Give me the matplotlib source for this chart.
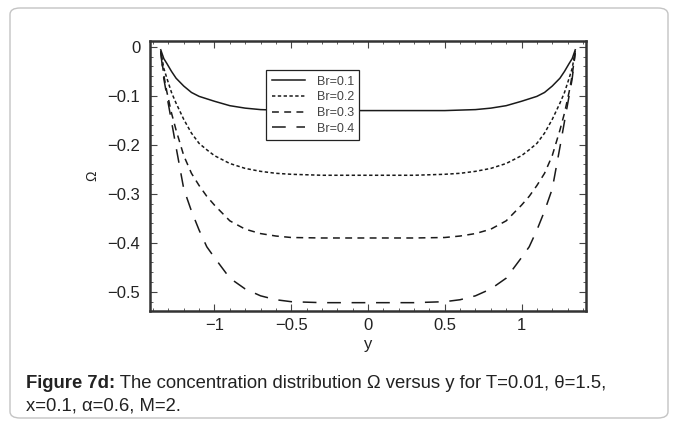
import numpy as np
import matplotlib
matplotlib.use("Agg")
import matplotlib.pyplot as plt
from matplotlib.patches import FancyBboxPatch
from matplotlib.ticker import MultipleLocator

plt.rcParams["font.family"] = ["Liberation Sans", "DejaVu Sans"]

# half-profile (y >= 0); curves are symmetric in y
y_half = [0.0, 0.3, 0.5, 0.6, 0.7, 0.8, 0.9, 1.0, 1.05, 1.1, 1.15, 1.2,
          1.25, 1.28, 1.31, 1.33, 1.35]
omega_br01 = [-0.130, -0.130, -0.130, -0.129, -0.128, -0.125, -0.120, -0.111,
              -0.106, -0.101, -0.093, -0.080, -0.064, -0.050, -0.034, -0.024, -0.006]
omega_br02 = [-0.262, -0.262, -0.260, -0.258, -0.254, -0.248, -0.238, -0.222,
              -0.210, -0.197, -0.176, -0.148, -0.115, -0.093, -0.064, -0.044, -0.008]
omega_br03 = [-0.390, -0.390, -0.389, -0.386, -0.381, -0.372, -0.355, -0.323,
              -0.305, -0.283, -0.258, -0.222, -0.170, -0.135, -0.092, -0.058, -0.010]
omega_br04 = [-0.522, -0.522, -0.520, -0.516, -0.508, -0.494, -0.472, -0.430,
              -0.408, -0.374, -0.335, -0.290, -0.205, -0.152, -0.100, -0.065, -0.012]

labels = ["Br=0.1", "Br=0.2", "Br=0.3", "Br=0.4"]
styles = ["-", (0, (2.2, 1.6)), (0, (4.5, 3.5)), (0, (9, 7))]


def full_curve(yh, vals):
    yh = np.asarray(yh)
    vals = np.asarray(vals)
    y = np.concatenate([-yh[::-1], yh[1:]])
    v = np.concatenate([vals[::-1], vals[1:]])
    return y, v


fig = plt.figure(figsize=(6.78, 4.26), dpi=100)

# rounded frame around chart + caption
frame = FancyBboxPatch((10 / 678, 8 / 426), 658 / 678, 410 / 426,
                       boxstyle="round,pad=0,rounding_size=0.015",
                       transform=fig.transFigure, fill=False,
                       edgecolor="#c4c4c4", linewidth=1.0)
fig.patches.append(frame)

ax = fig.add_axes([150 / 678, 115 / 426, 436 / 678, 270 / 426])

for vals, lab, ls in zip([omega_br01, omega_br02, omega_br03, omega_br04], labels, styles):
    y, v = full_curve(y_half, vals)
    ax.plot(y, v, color="#1a1a1a", linewidth=1.1, linestyle=ls, label=lab)

ax.set_xlim(-1.42, 1.42)
ax.set_ylim(-0.539, 0.012)

ax.xaxis.set_minor_locator(MultipleLocator(0.1))
ax.yaxis.set_minor_locator(MultipleLocator(0.02))
ax.set_xticks([-1, -0.5, 0, 0.5, 1])
ax.set_xticklabels(["\u22121", "\u22120.5", "0", "0.5", "1"])
ax.set_yticks([0, -0.1, -0.2, -0.3, -0.4, -0.5])
ax.set_yticklabels(["0", "\u22120.1", "\u22120.2", "\u22120.3", "\u22120.4", "\u22120.5"])

ax.tick_params(which="both", direction="in", top=True, right=True,
               color="#444444", labelsize=12, labelcolor="#222222")
ax.tick_params(which="major", length=5, width=0.8)
ax.tick_params(which="minor", length=2.5, width=0.6)
ax.tick_params(axis="y", which="major", pad=7)
ax.tick_params(axis="x", which="major", pad=5)
for sp in ax.spines.values():
    sp.set_linewidth(1.8)
    sp.set_color("#333333")

ax.set_xlabel("y", fontsize=12, color="#222222", labelpad=3)
ax.set_ylabel("\u03a9", fontsize=10, color="#222222", labelpad=6)

leg = ax.legend(loc="upper left", bbox_to_anchor=(0.266, 0.893),
                fontsize=9, frameon=True, fancybox=False, framealpha=1,
                edgecolor="#222222", handlelength=2.7, labelspacing=0.3,
                borderpad=0.45, handletextpad=0.9, borderaxespad=0)
leg.get_frame().set_linewidth(0.9)
for t in leg.get_texts():
    t.set_color("#444444")

# caption: bold lead + regular text
cap_x = 26 / 678
cap_y1 = 1 - 384 / 426
cap_y2 = 1 - 406 / 426
bold = fig.text(cap_x, cap_y1, "Figure 7d:", fontsize=13.3, fontweight="bold",
                color="#222222", va="center", ha="left")
fig.canvas.draw()
bb = bold.get_window_extent(renderer=fig.canvas.get_renderer())
x_after = bb.x1 / fig.bbox.width
fig.text(x_after, cap_y1,
         " The concentration distribution \u03a9 versus y for T=0.01, \u03b8=1.5,",
         fontsize=13.3, color="#222222", va="center", ha="left")
fig.text(cap_x, cap_y2, "x=0.1, \u03b1=0.6, M=2.", fontsize=13.3,
         color="#222222", va="center", ha="left")

fig.savefig("out.png", dpi=100)
